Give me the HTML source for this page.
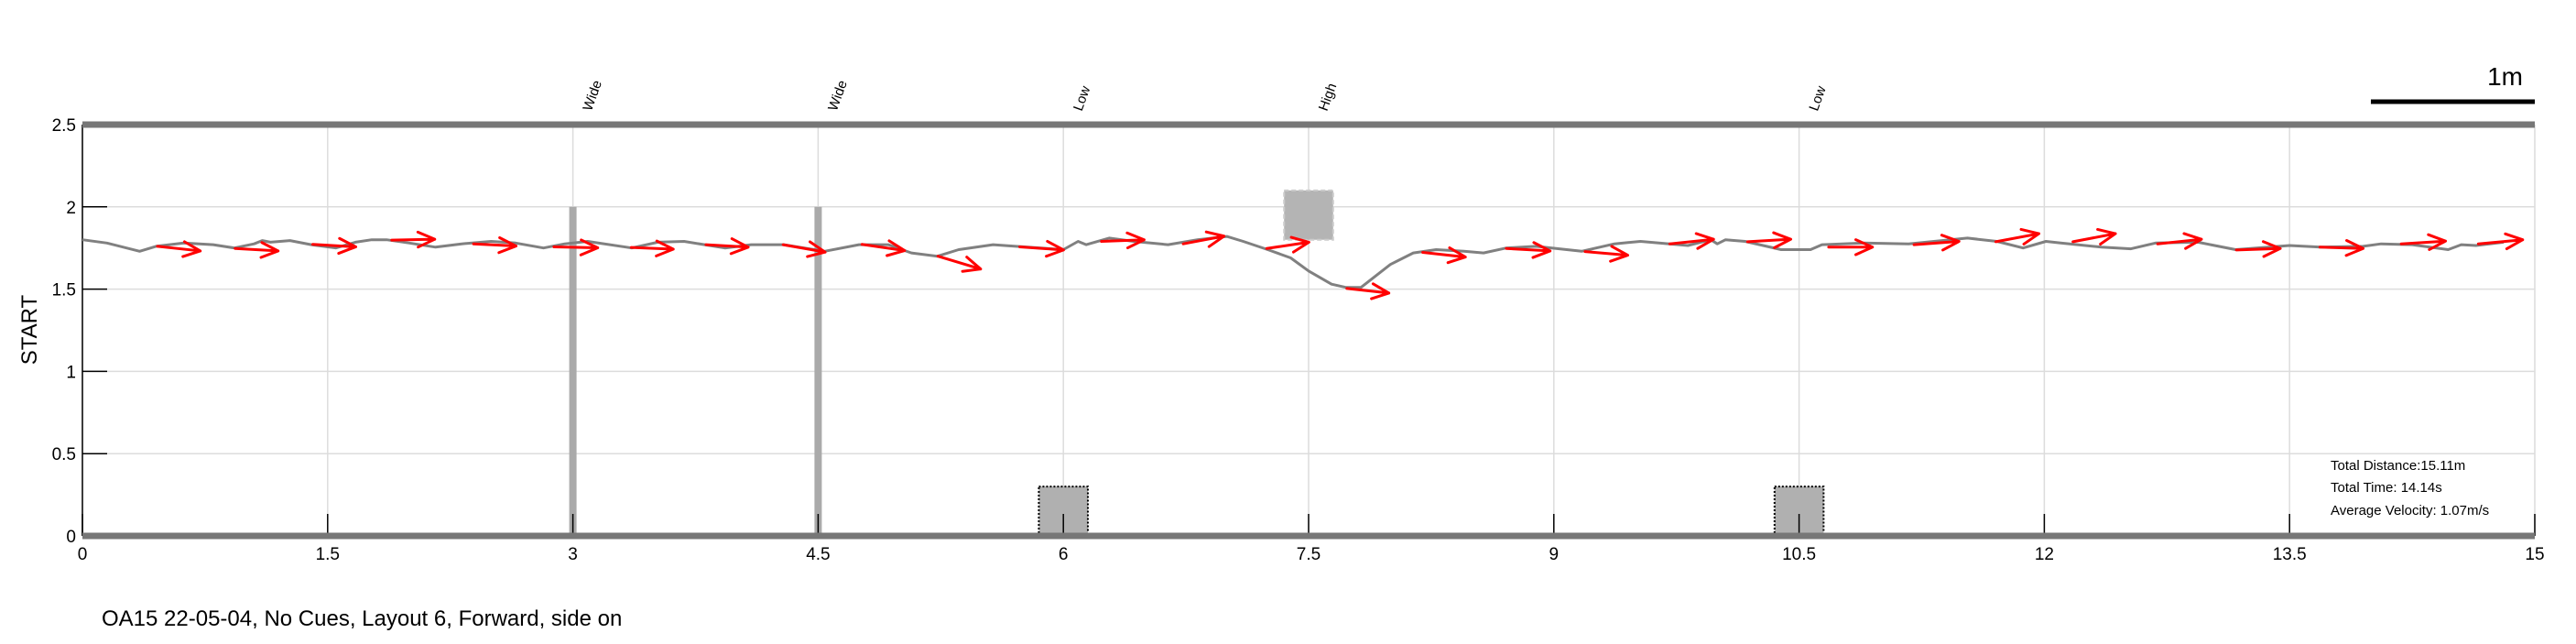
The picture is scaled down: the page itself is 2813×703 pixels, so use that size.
<!DOCTYPE html>
<html><head><meta charset="utf-8"><style>
html,body{margin:0;padding:0;background:#fff;}
svg{display:block;font-family:"Liberation Sans",sans-serif;}
</style></head><body>
<svg id="chart" width="2813" height="703" viewBox="0 0 2813 703" xmlns="http://www.w3.org/2000/svg">
<g id="grid"></g>
<g id="obstacles"></g>
<g id="axes"></g>
<g id="series"></g>
<text x="40" y="360" font-size="24" text-anchor="middle" transform="rotate(-90 40 360)">START</text>
<text x="111" y="683" font-size="24">OA15 22-05-04, No Cues, Layout 6, Forward, side on</text>
<text x="2755" y="93" font-size="28" text-anchor="end">1m</text>
<line x1="2589" y1="111" x2="2768" y2="111" stroke="#000" stroke-width="5"/>
<g font-size="15">
<text x="2545" y="513">Total Distance:15.11m</text>
<text x="2545" y="537">Total Time: 14.14s</text>
<text x="2545" y="562">Average Velocity: 1.07m/s</text>
</g>
</svg>
<script>
const xTicks=[0,1.5,3,4.5,6,7.5,9,10.5,12,13.5,15];
const yTicks=[0,0.5,1,1.5,2,2.5];
const pathX=[0,0.15,0.35,0.45,0.62,0.8,0.93,1.05,1.1,1.15,1.27,1.4,1.55,1.67,1.77,1.86,2.0,2.16,2.32,2.5,2.65,2.82,2.95,3.09,3.36,3.52,3.68,3.93,4.09,4.29,4.54,4.75,4.93,5.07,5.23,5.36,5.57,5.71,6.0,6.09,6.14,6.28,6.43,6.64,6.82,7.0,7.1,7.25,7.39,7.5,7.64,7.73,7.82,8.0,8.14,8.28,8.45,8.57,8.71,8.89,9.17,9.37,9.53,9.82,9.96,10.0,10.05,10.17,10.39,10.57,10.64,10.89,11.17,11.53,11.71,11.87,12.01,12.1,12.35,12.53,12.68,12.94,13.17,13.5,13.69,13.95,14.06,14.25,14.47,14.55,14.64,14.81];
const pathY=[1.8,1.78,1.73,1.76,1.78,1.77,1.75,1.775,1.795,1.785,1.795,1.77,1.75,1.785,1.8,1.8,1.78,1.755,1.775,1.79,1.78,1.75,1.775,1.79,1.75,1.785,1.79,1.75,1.77,1.77,1.73,1.77,1.77,1.72,1.7,1.74,1.77,1.76,1.74,1.79,1.77,1.81,1.79,1.77,1.8,1.82,1.79,1.74,1.69,1.61,1.53,1.51,1.51,1.65,1.72,1.74,1.73,1.72,1.75,1.76,1.73,1.775,1.79,1.765,1.8,1.775,1.8,1.79,1.74,1.74,1.77,1.78,1.775,1.81,1.79,1.75,1.79,1.78,1.755,1.745,1.78,1.785,1.74,1.765,1.755,1.76,1.775,1.77,1.74,1.77,1.765,1.785];
const arrowX0=[0.459,0.934,1.409,1.892,2.392,2.884,3.357,3.814,4.286,4.768,5.233,5.733,6.233,6.733,7.244,7.734,8.198,8.709,9.191,9.709,10.185,10.681,11.203,11.703,12.175,12.693,13.175,13.686,14.183,14.655];
const arrowY0=[1.76,1.747,1.772,1.798,1.775,1.757,1.753,1.77,1.77,1.772,1.7,1.757,1.79,1.775,1.747,1.504,1.723,1.747,1.728,1.775,1.788,1.755,1.77,1.788,1.788,1.775,1.738,1.755,1.775,1.775];
const arrowX1=[0.721,1.197,1.672,2.155,2.652,3.152,3.614,4.072,4.543,5.029,5.494,6.001,6.494,6.983,7.502,7.991,8.459,8.977,9.452,9.977,10.449,10.949,11.478,11.967,12.435,12.961,13.443,13.95,14.454,14.926];
const arrowY1=[1.732,1.732,1.757,1.803,1.762,1.751,1.743,1.755,1.725,1.734,1.622,1.738,1.8,1.822,1.785,1.476,1.695,1.732,1.706,1.803,1.803,1.755,1.79,1.837,1.837,1.803,1.747,1.747,1.792,1.8];
const obstacleX=[3,4.5,6,7.5,10.5];
const obstacleLabels=["Wide","Wide","Low","High","Low"];
const obstacleType=["bar","bar","low","high","low"];

const NS="http://www.w3.org/2000/svg";
const X0=90,X1=2768,Y0=585,Y1=136;
function sx(v){return X0+(v-0)/(15-0)*(X1-X0);}
function sy(v){return Y0-(v-0)/(2.5-0)*(Y0-Y1);}
function mk(tag,attrs,parent){const e=document.createElementNS(NS,tag);for(const k in attrs)e.setAttribute(k,attrs[k]);parent.appendChild(e);return e;}
const grid=document.getElementById('grid'),axes=document.getElementById('axes'),obs=document.getElementById('obstacles'),ser=document.getElementById('series');

xTicks.forEach(t=>{
  const g=mk('line',{x1:sx(t),x2:sx(t),y1:Y1,y2:Y0,stroke:'#dcdcdc','stroke-width':1.5},grid);
  
  
  const tk=mk('line',{x1:sx(t),x2:sx(t),y1:Y0,y2:Y0-24,stroke:'#000','stroke-width':1.5},axes);
  
  
  const lb=mk('text',{x:sx(t),y:611,'font-size':19,'text-anchor':'middle'},axes);
  lb.textContent=String(t);
  
  
});
yTicks.forEach(t=>{
  const g=mk('line',{x1:X0,x2:X1,y1:sy(t),y2:sy(t),stroke:'#dcdcdc','stroke-width':1.5},grid);
  
  
  const tk=mk('line',{x1:X0,x2:X0+27,y1:sy(t),y2:sy(t),stroke:'#000','stroke-width':1.5},axes);
  
  
  const lb=mk('text',{x:83,y:sy(t)+7,'font-size':19,'text-anchor':'end'},axes);
  lb.textContent=String(t);
  
  
});
const la=mk('line',{x1:X0,x2:X0,y1:Y1,y2:Y0,stroke:'#000','stroke-width':1.5},axes);


const tb=mk('line',{x1:X0,x2:X1,y1:Y1,y2:Y1,stroke:'#777','stroke-width':7},axes);


const bb=mk('line',{x1:X0,x2:X1,y1:Y0,y2:Y0,stroke:'#777','stroke-width':7},axes);



obstacleX.forEach((x,i)=>{
  const ty=obstacleType[i];
  if(ty==='bar'){
    const r=mk('rect',{x:sx(x)-4,y:sy(2),width:8,height:sy(0)-sy(2),fill:'#aaa'},obs);
    
    
  }else if(ty==='low'){
    const r=mk('rect',{x:sx(x-0.15),y:sy(0.3),width:sx(x+0.15)-sx(x-0.15),height:sy(0)-sy(0.3),fill:'#b0b0b0',stroke:'#000','stroke-width':2,'stroke-dasharray':'2 2'},obs);
    
    
  }else{
    const r=mk('rect',{x:sx(x-0.15),y:sy(2.1),width:sx(x+0.15)-sx(x-0.15),height:sy(1.8)-sy(2.1),fill:'#b4b4b4',stroke:'#ccc','stroke-width':2,'stroke-dasharray':'5 3'},obs);
    
    
  }
  const ax=sx(x)+20,ay=122;
  const t=mk('text',{x:ax,y:ay,'font-size':15,transform:`rotate(-70 ${ax} ${ay})`},obs);
  t.textContent=obstacleLabels[i];
  
  
});

const pts=pathX.map((x,i)=>sx(x).toFixed(1)+','+sy(pathY[i]).toFixed(1)).join(' ');
const pl=mk('polyline',{points:pts,fill:'none',stroke:'#808080','stroke-width':3,'stroke-linejoin':'round'},ser);



arrowX0.forEach((x0,i)=>{
  const ax0=sx(x0),ay0=sy(arrowY0[i]),ax1=sx(arrowX1[i]),ay1=sy(arrowY1[i]);
  const a=Math.atan2(ay1-ay0,ax1-ax0),L=20,w=0.42;
  const h1x=ax1-L*Math.cos(a-w),h1y=ay1-L*Math.sin(a-w),h2x=ax1-L*Math.cos(a+w),h2y=ay1-L*Math.sin(a+w);
  const p=mk('path',{d:`M${ax0},${ay0}L${ax1},${ay1}M${h1x},${h1y}L${ax1},${ay1}L${h2x},${h2y}`,fill:'none',stroke:'#ff0000','stroke-width':3,'stroke-linecap':'round','stroke-linejoin':'round'},ser);
  
  
});
</script>
</body></html>
